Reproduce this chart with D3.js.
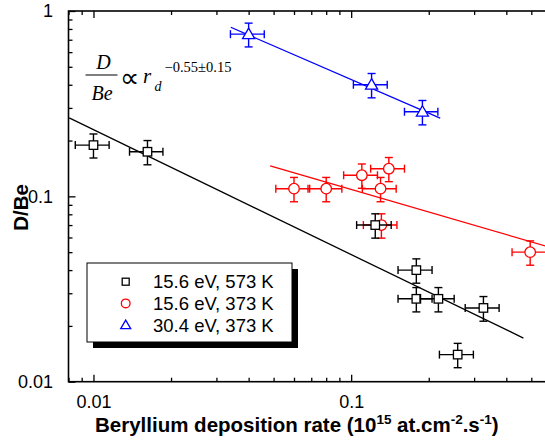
<!DOCTYPE html>
<html><head><meta charset="utf-8">
<script src="https://cdn.jsdelivr.net/npm/d3@7/dist/d3.min.js"></script>
<style>body{margin:0;background:#fff}svg{display:block}</style>
</head><body>
<script>
// ---- data ----
const seriesNames = ["15.6 eV, 573 K", "15.6 eV, 373 K", "30.4 eV, 373 K"];
const seriesColors = ["#000000", "#ff0000", "#0000ff"];
const blackX = [0.0100, 0.0162, 0.124, 0.179, 0.179, 0.218, 0.326, 0.259];
const blackY = [0.189, 0.174, 0.070, 0.040, 0.028, 0.028, 0.025, 0.0140];
const blackXErr = [0.0015, 0.0024, 0.019, 0.027, 0.027, 0.033, 0.049, 0.039];
const blackYErr = [0.028, 0.026, 0.0105, 0.006, 0.0042, 0.0042, 0.0038, 0.0021];
const redX = [0.060, 0.080, 0.110, 0.130, 0.140, 0.131, 0.495];
const redY = [0.110, 0.110, 0.130, 0.110, 0.141, 0.070, 0.050];
const redXErr = [0.009, 0.012, 0.0165, 0.0195, 0.021, 0.0195, 0.074];
const redYErr = [0.0165, 0.0165, 0.0195, 0.0165, 0.021, 0.0105, 0.0075];
const blueX = [0.040, 0.120, 0.189];
const blueY = [0.750, 0.400, 0.286];
const blueXErr = [0.006, 0.018, 0.028];
const blueYErr = [0.11, 0.06, 0.043];
const fitBlackX = [0.00805, 0.466], fitBlackY = [0.265, 0.0172];
const fitRedX = [0.0485, 0.60], fitRedY = [0.1459, 0.0528];
const fitBlueX = [0.0341, 0.2215], fitBlueY = [0.817, 0.264];
const xTickLabels = [0.01, 0.1];
const yTickLabels = [0.01, 0.1, 1];
const xTitle = "Beryllium deposition rate (10";
const yTitle = "D/Be";

(function () {
// ---- layout ----
const Wd = 545, Ht = 445;
const pLeft = 68.5, pTop = 11, pBottom = 381.7;
const decadeX = 257.7;
const xDom = [0.008, 0.7];
const pRight = pLeft + decadeX * Math.log10(xDom[1] / xDom[0]);
const x = d3.scaleLog().domain(xDom).range([pLeft, pRight]);
const y = d3.scaleLog().domain([0.01, 1]).range([pBottom, pTop]);

const svg = d3.select("body").append("svg").attr("width", Wd).attr("height", Ht);
const sans = "'Liberation Sans', Arial, sans-serif";
const serif = "'Liberation Serif', 'Times New Roman', serif";

svg.append("defs").append("clipPath").attr("id", "clip")
  .append("rect").attr("x", pLeft).attr("y", pTop).attr("width", pRight - pLeft).attr("height", pBottom - pTop);

const xMinor = [], yMinor = [];
[0.001, 0.01, 0.1].forEach(d => { for (let k = 2; k <= 9; k++) { const v = d * k; if (v >= xDom[0] && v <= xDom[1]) xMinor.push(v); } });
[0.01, 0.1].forEach(d => { for (let k = 2; k <= 9; k++) yMinor.push(d * k); });
const xMajor = [0.01, 0.1], yMajor = [0.01, 0.1, 1];

function styleAxis(g) {
  g.select(".domain").remove();
  g.selectAll("line").attr("stroke", "#000").attr("stroke-width", 1.3);
  g.selectAll("text").attr("font-family", sans).attr("font-size", 18).attr("fill", "#000");
}
svg.append("g").attr("transform", `translate(0,${pBottom})`)
  .call(d3.axisBottom(x).tickValues(xMajor).tickSize(-7).tickPadding(14).tickFormat(d => xTickLabels.includes(d) ? String(d) : ""))
  .call(styleAxis);
svg.append("g").attr("transform", `translate(0,${pBottom})`)
  .call(d3.axisBottom(x).tickValues(xMinor).tickSize(-4).tickFormat(""))
  .call(styleAxis);
svg.append("g").attr("transform", `translate(0,${pTop})`)
  .call(d3.axisTop(x).tickValues(xMajor).tickSize(-7).tickFormat(""))
  .call(styleAxis);
svg.append("g").attr("transform", `translate(0,${pTop})`)
  .call(d3.axisTop(x).tickValues(xMinor).tickSize(-4).tickFormat(""))
  .call(styleAxis);
svg.append("g").attr("transform", `translate(${pLeft},0)`)
  .call(d3.axisLeft(y).tickValues(yMajor).tickSize(-7).tickPadding(15.5).tickFormat(d => yTickLabels.includes(d) ? String(d) : ""))
  .call(styleAxis);
svg.append("g").attr("transform", `translate(${pLeft},0)`)
  .call(d3.axisLeft(y).tickValues(yMinor).tickSize(-4).tickFormat(""))
  .call(styleAxis);
svg.append("g").attr("transform", `translate(${pRight},0)`)
  .call(d3.axisRight(y).tickValues(yMajor).tickSize(-7).tickFormat(""))
  .call(styleAxis);

svg.append("rect").attr("x", pLeft).attr("y", pTop).attr("width", pRight - pLeft).attr("height", pBottom - pTop)
  .attr("fill", "none").attr("stroke", "#000").attr("stroke-width", 1.6);

const lineGen = d3.line().x(d => x(d[0])).y(d => y(d[1]));
const fits = [[fitBlackX, fitBlackY, 0], [fitRedX, fitRedY, 1], [fitBlueX, fitBlueY, 2]];
const plot = svg.append("g").attr("clip-path", "url(#clip)");
fits.forEach(([fx, fy, i]) => {
  plot.append("path").datum(fx.map((v, j) => [v, fy[j]])).attr("d", lineGen)
    .attr("fill", "none").attr("stroke", seriesColors[i]).attr("stroke-width", 1.3);
});

function drawSymbol(g, type, cx, cy, s, color) {
  if (type === 0) g.append("rect").attr("x", cx - s / 2).attr("y", cy - s / 2).attr("width", s).attr("height", s)
    .attr("fill", "#fff").attr("stroke", color).attr("stroke-width", 1.3);
  else if (type === 1) g.append("circle").attr("cx", cx).attr("cy", cy).attr("r", s * 0.62)
    .attr("fill", "#fff").attr("stroke", color).attr("stroke-width", 1.3);
  else {
    const h = s * 1.15;
    g.append("path").attr("d", `M${cx},${cy - h * 0.62}L${cx + h * 0.62},${cy + h * 0.45}L${cx - h * 0.62},${cy + h * 0.45}Z`)
      .attr("fill", "#fff").attr("stroke", color).attr("stroke-width", 1.3);
  }
}
function drawSeries(xs, ys, xe, ye, type) {
  const color = seriesColors[type];
  const g = svg.append("g");
  const cap = 4;
  xs.forEach((xv, i) => {
    const cx = x(xv), cy = y(ys[i]);
    const x0 = x(xv - xe[i]), x1 = x(xv + xe[i]);
    const y0 = y(ys[i] + ye[i]), y1 = y(ys[i] - ye[i]);
    const eg = g.append("g").attr("stroke", color).attr("stroke-width", 1.4).attr("fill", "none");
    eg.append("line").attr("x1", x0).attr("x2", x1).attr("y1", cy).attr("y2", cy);
    eg.append("line").attr("x1", cx).attr("x2", cx).attr("y1", y0).attr("y2", y1);
    eg.append("line").attr("x1", x0).attr("x2", x0).attr("y1", cy - cap).attr("y2", cy + cap);
    eg.append("line").attr("x1", x1).attr("x2", x1).attr("y1", cy - cap).attr("y2", cy + cap);
    eg.append("line").attr("x1", cx - cap).attr("x2", cx + cap).attr("y1", y0).attr("y2", y0);
    eg.append("line").attr("x1", cx - cap).attr("x2", cx + cap).attr("y1", y1).attr("y2", y1);
    drawSymbol(g, type, cx, cy, 8.5, color);
  });
}
drawSeries(redX, redY, redXErr, redYErr, 1);
drawSeries(blackX, blackY, blackXErr, blackYErr, 0);
drawSeries(blueX, blueY, blueXErr, blueYErr, 2);

const lg = svg.append("g");
const lx = 87, ly = 263, lw = 205, lh = 79;
lg.append("rect").attr("x", lx + 6).attr("y", ly + 6).attr("width", lw).attr("height", lh).attr("fill", "#000");
lg.append("rect").attr("x", lx).attr("y", ly).attr("width", lw).attr("height", lh).attr("fill", "#fff")
  .attr("stroke", "#000").attr("stroke-width", 1);
seriesNames.forEach((name, i) => {
  const ry = 281.7 + i * 21.7;
  drawSymbol(lg, i, 125.7, ry, 7, seriesColors[i]);
  lg.append("text").attr("x", 153).attr("y", ry + 6.5).attr("font-family", sans).attr("font-size", 18.5)
    .attr("fill", "#000").text(name);
});

const fg = svg.append("g").attr("font-family", serif).attr("font-style", "italic").attr("fill", "#000");
fg.append("text").attr("x", 103.5).attr("y", 69.3).attr("text-anchor", "middle").attr("font-size", 20).text("D");
fg.append("line").attr("x1", 85.5).attr("x2", 117.5).attr("y1", 75).attr("y2", 75).attr("stroke", "#000").attr("stroke-width", 1.2);
fg.append("text").attr("x", 102).attr("y", 100).attr("text-anchor", "middle").attr("font-size", 20).text("Be");
fg.append("text").attr("x", 129.8).attr("y", 87).attr("text-anchor", "middle").attr("font-size", 27).attr("font-style", "normal").text("\u221D");
fg.append("text").attr("x", 143).attr("y", 83.3).attr("font-size", 21).text("r");
fg.append("text").attr("x", 154.5).attr("y", 91).attr("font-size", 14).text("d");
fg.append("text").attr("x", 164.5).attr("y", 72.3).attr("font-size", 14.5).attr("font-style", "normal").text("\u22120.55\u00B10.15");

const xt = svg.append("text").attr("y", 431.7).attr("font-family", sans).attr("font-weight", "bold")
  .attr("font-size", 20.5).attr("fill", "#000");
xt.append("tspan").text(xTitle);
xt.append("tspan").attr("font-size", 13.5).attr("dy", -8).text("15");
xt.append("tspan").attr("dy", 8).text(" at.cm");
xt.append("tspan").attr("font-size", 13.5).attr("dy", -8).text("-2");
xt.append("tspan").attr("dy", 8).text(".s");
xt.append("tspan").attr("font-size", 13.5).attr("dy", -8).text("-1");
xt.append("tspan").attr("dy", 8).text(")");
xt.attr("x", 95);

svg.append("text").attr("transform", "translate(27.5,207.5) rotate(-90)").attr("text-anchor", "middle")
  .attr("font-family", sans).attr("font-weight", "bold").attr("font-size", 20.5).attr("fill", "#000").text(yTitle);
})();
</script>
</body></html>
